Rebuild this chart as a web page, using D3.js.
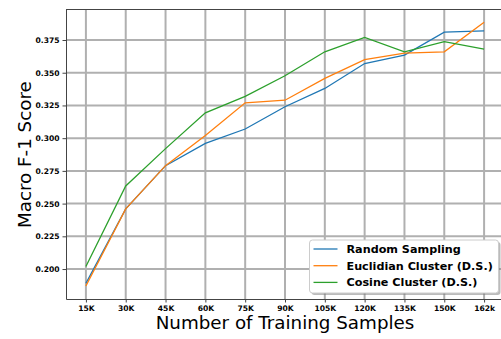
<!DOCTYPE html>
<html>
<head>
<meta charset="utf-8">
<script src="https://d3js.org/d3.v7.min.js"></script>
<style>
  body { margin: 0; background: #fff; }
  .tickText { font-family: "DejaVu Sans", sans-serif; font-weight: bold; font-size: 7.6px; fill: #000; }
  .axisTitle { font-family: "DejaVu Sans", sans-serif; font-size: 18.3px; fill: #000; }
  .legendText { font-family: "DejaVu Sans", sans-serif; font-weight: bold; font-size: 11.2px; fill: #000; }
</style>
</head>
<body>
<div id="chart"></div>
<script>
// data
var sampleLabels = ["15K", "30K", "45K", "60K", "75K", "90K", "105K", "120K", "135K", "150K", "162k"];
var randomSampling = [0.189, 0.246, 0.279, 0.296, 0.307, 0.324, 0.338, 0.357, 0.3635, 0.381, 0.382];
var euclidianCluster = [0.187, 0.246, 0.279, 0.302, 0.327, 0.329, 0.3457, 0.360, 0.365, 0.366, 0.3885];
var cosineCluster = [0.202, 0.2635, 0.292, 0.3194, 0.332, 0.3477, 0.366, 0.377, 0.366, 0.3738, 0.368];
var yTicks = [0.200, 0.225, 0.250, 0.275, 0.300, 0.325, 0.350, 0.375];

var seriesNames = ["Random Sampling", "Euclidian Cluster (D.S.)", "Cosine Cluster (D.S.)"];
var seriesColors = ["#1f77b4", "#ff7f0e", "#2ca02c"];
var series = [randomSampling, euclidianCluster, cosineCluster];

var svgWidth = 501;
var svgHeight = 339;
var margin = { top: 9, right: -3, bottom: 40, left: 66 };
var width = svgWidth - margin.left - margin.right;
var height = svgHeight - margin.top - margin.bottom;

var svg = d3.select("#chart")
  .append("svg")
  .attr("width", svgWidth)
  .attr("height", svgHeight);

var chartGroup = svg.append("g")
  .attr("transform", `translate(${margin.left}, ${margin.top})`);

var xScale = d3.scaleLinear()
  .domain([-0.5, sampleLabels.length - 0.5])
  .range([0, width]);

var yScale = d3.scaleLinear()
  .domain([0.1771, 0.3987])
  .range([height, 0]);

// grid
chartGroup.selectAll(".xgrid")
  .data(sampleLabels)
  .enter()
  .append("line")
  .attr("x1", (d, i) => xScale(i))
  .attr("x2", (d, i) => xScale(i))
  .attr("y1", 0)
  .attr("y2", height)
  .attr("stroke", "#b0b0b0")
  .attr("stroke-width", 2);

chartGroup.selectAll(".ygrid")
  .data(yTicks)
  .enter()
  .append("line")
  .attr("x1", 0)
  .attr("x2", width)
  .attr("y1", d => yScale(d))
  .attr("y2", d => yScale(d))
  .attr("stroke", "#b0b0b0")
  .attr("stroke-width", 2);

// axes
var xAxis = d3.axisBottom(xScale)
  .tickValues(d3.range(sampleLabels.length))
  .tickFormat(i => sampleLabels[i])
  .tickSize(3.5)
  .tickSizeOuter(0)
  .tickPadding(3);

var yAxis = d3.axisLeft(yScale)
  .tickValues(yTicks)
  .tickFormat(d3.format(".3f"))
  .tickSize(3.5)
  .tickSizeOuter(0)
  .tickPadding(3);

var gx = chartGroup.append("g")
  .attr("transform", `translate(0, ${height})`)
  .call(xAxis);

var gy = chartGroup.append("g")
  .call(yAxis);

[gx, gy].forEach(function(g) {
  g.select(".domain").attr("stroke", "#444").attr("stroke-width", 1);
  g.selectAll(".tick line").attr("stroke", "#444").attr("stroke-width", 1);
  g.selectAll(".tick text").attr("class", "tickText");
});

// top spine
chartGroup.append("line")
  .attr("x1", 0)
  .attr("x2", width)
  .attr("y1", 0.5)
  .attr("y2", 0.5)
  .attr("stroke", "#444")
  .attr("stroke-width", 1);

// lines
var line = d3.line()
  .x((d, i) => xScale(i))
  .y(d => yScale(d));

chartGroup.selectAll(".series")
  .data(series)
  .enter()
  .append("path")
  .attr("d", d => line(d))
  .attr("fill", "none")
  .attr("stroke", (d, i) => seriesColors[i])
  .attr("stroke-width", 1.3);

// axis titles
svg.append("text")
  .attr("class", "axisTitle")
  .attr("x", margin.left + xScale(5))
  .attr("y", 329)
  .attr("text-anchor", "middle")
  .text("Number of Training Samples");

svg.append("text")
  .attr("class", "axisTitle")
  .attr("transform", "rotate(-90)")
  .attr("x", -(margin.top + yScale(0.2874)))
  .attr("y", 31)
  .attr("text-anchor", "middle")
  .text("Macro F-1 Score");

// legend
var legend = svg.append("g")
  .attr("transform", "translate(309.5, 240)");

legend.append("rect")
  .attr("x", 2)
  .attr("y", 2)
  .attr("width", 189)
  .attr("height", 53)
  .attr("rx", 3)
  .attr("fill", "#777")
  .attr("opacity", 0.5);

legend.append("rect")
  .attr("width", 189)
  .attr("height", 53)
  .attr("rx", 3)
  .attr("fill", "#fff")
  .attr("stroke", "#ccc")
  .attr("stroke-width", 1);

var entries = legend.selectAll(".entry")
  .data(seriesNames)
  .enter()
  .append("g")
  .attr("transform", (d, i) => `translate(0, ${9 + i * 16.7})`);

entries.append("line")
  .attr("x1", 4)
  .attr("x2", 28)
  .attr("y1", 0)
  .attr("y2", 0)
  .attr("stroke", (d, i) => seriesColors[i])
  .attr("stroke-width", 1.3);

entries.append("text")
  .attr("class", "legendText")
  .attr("x", 37)
  .attr("y", 4)
  .text(d => d);
</script>
</body>
</html>
